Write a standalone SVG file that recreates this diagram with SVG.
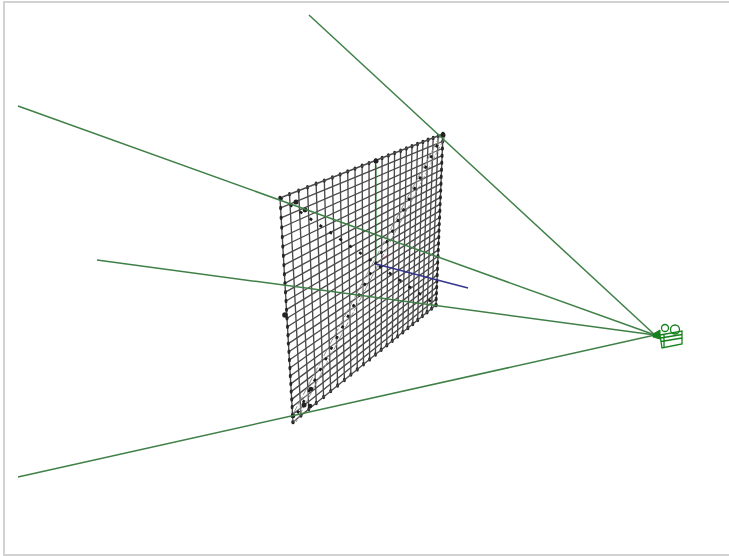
<svg xmlns="http://www.w3.org/2000/svg" width="729" height="556" viewBox="0 0 729 556">
<style>
.frame{fill:none;stroke:#d2d2d2;stroke-width:2}
.ray{fill:none;stroke:#3f8047;stroke-width:1.5}
.mesh{fill:none;stroke:#4a4a4a;stroke-width:1.35;marker:url(#knot)}
.diag{fill:none;stroke:#1c1c1c;stroke-width:2.600;stroke-dasharray:3 9}
.diag2{fill:none;stroke:#888;stroke-width:.9;stroke-dasharray:9 2}
.halo{fill:none;stroke:#fff;stroke-width:3;stroke-opacity:.25}
.cam{fill:none;stroke:#14801c;stroke-width:1.300}
.blob{fill:#222}
</style>
<defs>
<marker id="knot" markerUnits="userSpaceOnUse" markerWidth="7" markerHeight="7" refX="3.500" refY="3.500"><ellipse cx="3.500" cy="3.500" rx="1.500" ry="2.200" fill="#262626"/></marker>
<filter id="soft" x="-5%" y="-5%" width="110%" height="110%"><feGaussianBlur stdDeviation="0.5"/></filter>
</defs>
<rect width="729" height="556" fill="#fff"/>
<path class="frame" d="M4 556V2H729M4 555H729"/>
<g filter="url(#soft)">
<g id="axes">
<path d="M376 263V165" fill="none" stroke="#5fc068" stroke-width="1.400"/>
<path d="M376 263L388 255" fill="none" stroke="#d06a6a" stroke-width="1.100"/>
</g>
<g id="grid">
<path class="mesh" d="M280 198L293 422M289.500 194.300L301 415.500M298.600 190.700L308.800 409.100M307.500 187.200L316.300 403M316.100 183.800L323.600 397M324.300 180.600L330.700 391.100M332.400 177.400L337.600 385.500M340.100 174.400L344.400 380M347.700 171.400L350.900 374.600M355 168.600L357.300 369.400M362.100 165.800L363.500 364.300M369 163.100L369.600 359.400M375.600 160.400L375.500 354.500M382.100 157.900L381.200 349.800M388.400 155.400L386.800 345.300M394.600 153L392.300 340.800M400.600 150.700L397.600 336.400M406.400 148.400L402.800 332.200M412 146.200L407.900 328M417.500 144L412.800 324M422.900 141.900L417.700 320M428.100 139.800L422.400 316.100M433.200 137.900L427 312.300M438.200 135.900L431.600 308.600M443 134L436 305"/>
<path class="mesh" d="M280 198L443 134M280.600 207.900L442.700 141.300M281.100 217.800L442.400 148.500M281.700 227.500L442.100 155.700M282.300 237L441.800 162.800M282.800 246.500L441.500 169.800M283.400 255.800L441.200 176.800M283.900 265.100L441 183.700M284.400 274.200L440.700 190.600M284.900 283.300L440.400 197.400M285.500 292.200L440.100 204.100M286 301L439.900 210.800M286.500 309.700L439.600 217.500M287 318.300L439.300 224.100M287.500 326.800L439 230.600M288 335.200L438.800 237.100M288.400 343.600L438.500 243.500M288.900 351.800L438.300 249.900M289.400 360L438 256.200M289.900 368L437.700 262.500M290.300 376L437.500 268.700M290.800 383.900L437.200 274.900M291.200 391.600L437 281M291.700 399.400L436.700 287.100M292.100 407L436.500 293.100M292.600 414.500L436.200 299M293 422L436 305"/>
<path class="halo" d="M443 134L293 422"/>
<path class="diag2" d="M441 134L291 418M445 137L296 422"/>
<path class="diag" d="M280 198L436 305"/>
<path class="diag" d="M443 134L293 422"/>
<circle class="blob" cx="285" cy="315" r="2.800"/><circle class="blob" cx="296" cy="202" r="2.500"/><circle class="blob" cx="305" cy="210" r="2.400"/><circle class="blob" cx="376" cy="161" r="2.500"/><circle class="blob" cx="443" cy="135" r="2.500"/><circle class="blob" cx="304" cy="405" r="2.500"/><circle class="blob" cx="310" cy="406" r="2.300"/><circle class="blob" cx="311" cy="389" r="2.300"/><circle class="blob" cx="293" cy="416" r="2.300"/>
</g>
<g id="connectors">
<path class="ray" d="M309 15L655 335"/>
<path class="ray" d="M18 106L655 335"/>
<path class="ray" d="M97 260L655 335"/>
<path class="ray" d="M18 477L655 335"/>
<path d="M376 264L468 288" fill="none" stroke="#34348f" stroke-width="1.500"/>
</g>
<g id="camera">
<path d="M653 334L660 330V339L653 337Z" fill="#14801c" stroke="#14801c"/>
<circle class="cam" cx="665" cy="328" r="3.500"/>
<circle class="cam" cx="675" cy="329.500" r="4.500"/>
<path class="cam" d="M660 335L682 331V344L662 348ZM660.500 338L682 334.500M661 341.500L682 338M664 335V347"/>
</g>
</g>
</svg>
